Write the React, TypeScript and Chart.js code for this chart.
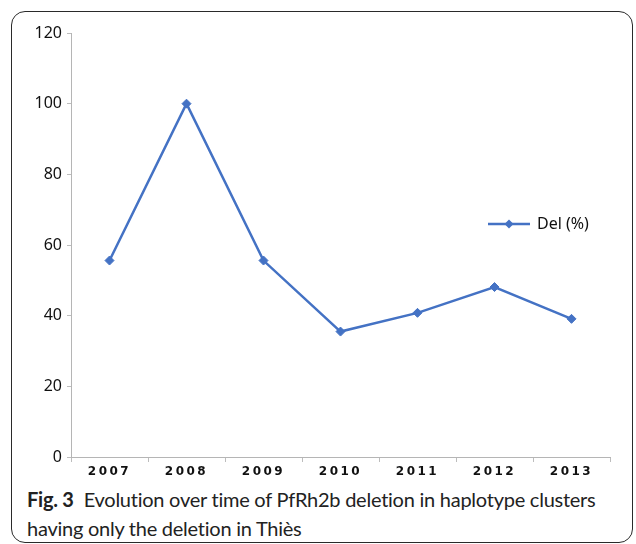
import React, { useEffect, useRef } from "react";
import { Chart, registerables, CategoryScale } from "chart.js";

Chart.register(...registerables);

class SpacedCategoryScale extends CategoryScale {
  static id = "spacedCategory";
  static defaults = (CategoryScale as any).defaults;
  drawLabels(chartArea: any) {
    const ctx = (this as any).ctx as CanvasRenderingContext2D;
    ctx.save();
    (ctx as any).letterSpacing = "2.5px";
    super.drawLabels(chartArea);
    ctx.restore();
  }
}
Chart.register(SpacedCategoryScale as any);

const categories = ["2007", "2008", "2009", "2010", "2011", "2012", "2013"];
const delValues = [55.6, 100, 55.6, 35.5, 40.8, 48.1, 39.1];
const seriesLabel = "Del (%)";
const yMin = 0;
const yMax = 120;
const yStep = 20;

const BLUE = "#4472C4";

function makeLegendIcon(): HTMLCanvasElement {
  const c = document.createElement("canvas");
  c.width = 42;
  c.height = 12;
  const ctx = c.getContext("2d")!;
  ctx.strokeStyle = BLUE;
  ctx.lineWidth = 2.5;
  ctx.beginPath();
  ctx.moveTo(0, 6);
  ctx.lineTo(42, 6);
  ctx.stroke();
  ctx.fillStyle = BLUE;
  ctx.beginPath();
  ctx.moveTo(21, 1.5);
  ctx.lineTo(25.5, 6);
  ctx.lineTo(21, 10.5);
  ctx.lineTo(16.5, 6);
  ctx.closePath();
  ctx.fill();
  return c;
}

const legendMover = {
  id: "legendMover",
  afterLayout(chart: any) {
    const lg = chart.legend;
    if (!lg) return;
    const left = 467;
    const top = 194;
    lg.left = left;
    lg.right = left + lg.width;
    lg.top = top;
    lg.bottom = top + lg.height;
  },
};

export default function App() {
  const ref = useRef<HTMLCanvasElement>(null);
  useEffect(() => {
    if (!ref.current) return;
    const icon = makeLegendIcon();
    const chart = new Chart(ref.current, {
      type: "line",
      data: {
        labels: categories,
        datasets: [
          {
            label: seriesLabel,
            data: delValues,
            borderColor: BLUE,
            backgroundColor: BLUE,
            borderWidth: 2.5,
            pointStyle: "rectRot",
            pointRadius: 4.5,
            pointBorderWidth: 1,
            tension: 0,
            fill: false,
          },
        ],
      },
      options: {
        animation: false,
        responsive: false,
        maintainAspectRatio: false,
        layout: { padding: { top: 21, right: 22, bottom: 0, left: 0 } },
        plugins: {
          tooltip: { enabled: false },
          legend: {
            position: "chartArea",
            align: "start",
            labels: {
              usePointStyle: true,
              pointStyleWidth: 40,
              color: "#111",
              font: { family: "Noto Sans", size: 16 },
              generateLabels: (ch: any) =>
                ch.data.datasets.map((ds: any, i: number) => ({
                  text: ds.label,
                  pointStyle: icon,
                  fillStyle: BLUE,
                  strokeStyle: BLUE,
                  lineWidth: 0,
                  hidden: false,
                  datasetIndex: i,
                  fontColor: "#111",
                })),
            },
          },
        },
        scales: {
          x: {
            type: "spacedCategory" as any,
            offset: true,
            afterFit: (s: any) => {
              s.height = 25;
            },
            grid: {
              display: true,
              drawOnChartArea: false,
              drawTicks: true,
              tickLength: 5,
              offset: true,
              color: "#bdbdbd",
            },
            border: { display: true, color: "#b5b5b5", width: 1 },
            ticks: {
              color: "#111",
              padding: 3,
              font: { family: "DejaVu Sans", size: 12, weight: "bold" },
              maxRotation: 0,
            },
          } as any,
          y: {
            min: yMin,
            max: yMax,
            afterFit: (s: any) => {
              s.width = 59;
            },
            grid: {
              display: true,
              drawOnChartArea: false,
              drawTicks: true,
              tickLength: 4,
              color: "#bdbdbd",
            },
            border: { display: true, color: "#b5b5b5", width: 1 },
            ticks: {
              stepSize: yStep,
              color: "#111",
              padding: 5,
              font: { family: "Noto Sans", size: 16 },
            },
          },
        },
      },
      plugins: [legendMover],
    });
    return () => chart.destroy();
  }, []);

  return (
    <div style={{ position: "relative", width: 636, height: 544, overflow: "hidden", background: "#fff" }}>
      <style>{"html,body{margin:0;padding:0;overflow:hidden;}"}</style>
      <div
        style={{
          position: "absolute",
          left: 11,
          top: 11,
          width: 622,
          height: 532,
          boxSizing: "border-box",
          border: "1.5px solid #2a2a2a",
          borderRadius: 14,
        }}
      />
      <canvas
        ref={ref}
        width={620}
        height={470}
        style={{ position: "absolute", left: 12, top: 12, width: 620, height: 470 }}
      />
      <div
        style={{
          position: "absolute",
          left: 27,
          top: 485,
          fontFamily: "Lato",
          fontSize: 20,
          letterSpacing: "-0.25px",
          lineHeight: "28.5px",
          color: "#222",
          whiteSpace: "nowrap",
          fontVariantLigatures: "none",
        }}
      >
        <span style={{ fontWeight: 700 }}>Fig. 3</span>
        <span style={{ marginLeft: 10 }}>
          Evolution over time of PfRh2b deletion in haplotype clusters
        </span>
        <br />
        having only the deletion in Thiès
      </div>
    </div>
  );
}
